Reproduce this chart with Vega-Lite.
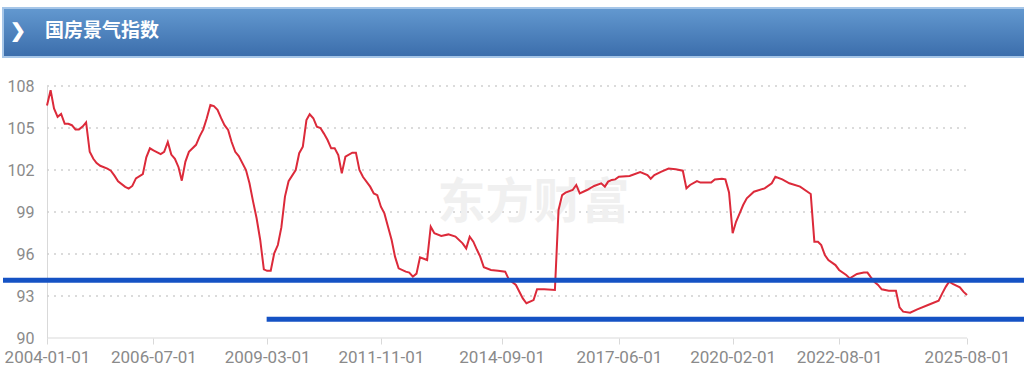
{
  "$schema": "https://vega.github.io/schema/vega-lite/v6.json",
  "padding": {"left": 0, "top": 7, "right": 0, "bottom": 0},
  "background": "white",
  "columns": 1,
  "align": "none",
  "spacing": 20,
  "config": {"view": {"stroke": null}, "font": "Roboto"},
  "datasets": {
    "series": [
      {"date":"2004-01-01","value":106.6},{"date":"2004-02-01","value":107.7},{"date":"2004-03-01","value":106.4},{"date":"2004-04-01","value":105.8},{"date":"2004-05-01","value":106.0},{"date":"2004-06-01","value":105.3},{"date":"2004-07-01","value":105.3},{"date":"2004-08-01","value":105.2},{"date":"2004-09-01","value":104.9},{"date":"2004-10-01","value":104.9},{"date":"2004-11-01","value":105.1},{"date":"2004-12-01","value":105.4},
      {"date":"2005-01-01","value":103.3},{"date":"2005-02-01","value":102.8},{"date":"2005-03-01","value":102.5},{"date":"2005-04-01","value":102.3},{"date":"2005-06-01","value":102.1},{"date":"2005-07-01","value":101.95},{"date":"2005-08-01","value":101.6},{"date":"2005-09-01","value":101.2},{"date":"2005-11-01","value":100.8},{"date":"2005-12-01","value":100.67},
      {"date":"2006-01-01","value":100.86},{"date":"2006-02-01","value":101.4},{"date":"2006-04-01","value":101.7},{"date":"2006-05-01","value":102.9},{"date":"2006-06-01","value":103.55},{"date":"2006-07-01","value":103.4},{"date":"2006-09-01","value":103.14},{"date":"2006-10-01","value":103.3},{"date":"2006-11-01","value":104.0},{"date":"2006-12-01","value":103.1},
      {"date":"2007-01-01","value":102.8},{"date":"2007-02-01","value":102.2},{"date":"2007-03-01","value":101.24},{"date":"2007-04-01","value":102.6},{"date":"2007-05-01","value":103.3},{"date":"2007-07-01","value":103.8},{"date":"2007-08-01","value":104.4},{"date":"2007-09-01","value":104.9},{"date":"2007-10-01","value":105.7},{"date":"2007-11-01","value":106.64},{"date":"2007-12-01","value":106.57},
      {"date":"2008-01-01","value":106.3},{"date":"2008-02-01","value":105.7},{"date":"2008-03-01","value":105.2},{"date":"2008-04-01","value":104.86},{"date":"2008-05-01","value":104.0},{"date":"2008-06-01","value":103.3},{"date":"2008-07-01","value":103.0},{"date":"2008-09-01","value":102.0},{"date":"2008-10-01","value":101.05},{"date":"2008-11-01","value":99.74},{"date":"2008-12-01","value":98.55},
      {"date":"2009-01-01","value":97.0},{"date":"2009-02-01","value":94.9},{"date":"2009-03-01","value":94.8},{"date":"2009-04-01","value":94.8},{"date":"2009-05-01","value":96.05},{"date":"2009-06-01","value":96.64},{"date":"2009-07-01","value":97.9},{"date":"2009-08-01","value":100.1},{"date":"2009-09-01","value":101.2},{"date":"2009-11-01","value":102.0},{"date":"2009-12-01","value":103.2},
      {"date":"2010-01-01","value":103.67},{"date":"2010-02-01","value":105.57},{"date":"2010-03-01","value":105.98},{"date":"2010-04-01","value":105.7},{"date":"2010-05-01","value":105.1},{"date":"2010-06-01","value":105.0},{"date":"2010-07-01","value":104.6},{"date":"2010-08-01","value":104.14},{"date":"2010-09-01","value":103.55},{"date":"2010-10-01","value":103.55},{"date":"2010-11-01","value":103.07},{"date":"2010-12-01","value":101.76},
      {"date":"2011-01-01","value":102.95},{"date":"2011-03-01","value":103.24},{"date":"2011-04-01","value":103.24},{"date":"2011-05-01","value":102.0},{"date":"2011-06-01","value":101.5},{"date":"2011-08-01","value":100.81},{"date":"2011-09-01","value":100.33},{"date":"2011-10-01","value":100.2},{"date":"2011-11-01","value":99.38},{"date":"2011-12-01","value":98.9},
      {"date":"2012-01-01","value":97.95},{"date":"2012-02-01","value":97.0},{"date":"2012-03-01","value":95.81},{"date":"2012-04-01","value":94.98},{"date":"2012-06-01","value":94.74},{"date":"2012-07-01","value":94.67},{"date":"2012-08-01","value":94.38},{"date":"2012-09-01","value":94.6},{"date":"2012-10-01","value":95.76},{"date":"2012-12-01","value":95.57},
      {"date":"2013-01-01","value":97.95},{"date":"2013-02-01","value":97.48},{"date":"2013-04-01","value":97.29},{"date":"2013-06-01","value":97.4},{"date":"2013-08-01","value":97.24},{"date":"2013-10-01","value":96.76},{"date":"2013-11-01","value":96.4},{"date":"2013-12-01","value":97.24},
      {"date":"2014-01-01","value":96.88},{"date":"2014-02-01","value":96.3},{"date":"2014-03-01","value":95.81},{"date":"2014-04-01","value":95.05},{"date":"2014-06-01","value":94.86},{"date":"2014-08-01","value":94.81},{"date":"2014-10-01","value":94.74},{"date":"2014-11-01","value":94.19},
      {"date":"2015-01-01","value":93.79},{"date":"2015-03-01","value":92.83},{"date":"2015-04-01","value":92.48},{"date":"2015-06-01","value":92.71},{"date":"2015-07-01","value":93.48},{"date":"2015-09-01","value":93.48},{"date":"2015-12-01","value":93.43},
      {"date":"2016-01-01","value":99.14},{"date":"2016-02-01","value":100.21},{"date":"2016-03-01","value":100.38},{"date":"2016-05-01","value":100.57},{"date":"2016-06-01","value":100.93},{"date":"2016-07-01","value":100.33},{"date":"2016-09-01","value":100.57},{"date":"2016-11-01","value":100.86},
      {"date":"2017-01-01","value":101.05},{"date":"2017-02-01","value":100.81},{"date":"2017-03-01","value":101.17},{"date":"2017-04-01","value":101.29},{"date":"2017-05-01","value":101.33},{"date":"2017-06-01","value":101.52},{"date":"2017-09-01","value":101.57},{"date":"2017-12-01","value":101.86},
      {"date":"2018-02-01","value":101.64},{"date":"2018-03-01","value":101.38},{"date":"2018-04-01","value":101.64},{"date":"2018-06-01","value":101.88},{"date":"2018-08-01","value":102.1},{"date":"2018-10-01","value":102.05},{"date":"2018-12-01","value":101.95},
      {"date":"2019-01-01","value":100.69},{"date":"2019-02-01","value":100.93},{"date":"2019-04-01","value":101.21},{"date":"2019-05-01","value":101.1},{"date":"2019-08-01","value":101.1},{"date":"2019-09-01","value":101.33},{"date":"2019-11-01","value":101.38},{"date":"2019-12-01","value":101.33},
      {"date":"2020-01-01","value":100.4},{"date":"2020-02-01","value":97.48},{"date":"2020-03-01","value":98.3},{"date":"2020-04-01","value":98.9},{"date":"2020-05-01","value":99.5},{"date":"2020-06-01","value":99.98},{"date":"2020-08-01","value":100.45},{"date":"2020-11-01","value":100.69},
      {"date":"2021-01-01","value":101.05},{"date":"2021-02-01","value":101.52},{"date":"2021-04-01","value":101.33},{"date":"2021-06-01","value":101.05},{"date":"2021-09-01","value":100.81},{"date":"2021-12-01","value":100.29},
      {"date":"2022-01-01","value":96.88},{"date":"2022-02-01","value":96.88},{"date":"2022-03-01","value":96.64},{"date":"2022-04-01","value":95.93},{"date":"2022-05-01","value":95.57},{"date":"2022-07-01","value":95.21},{"date":"2022-08-01","value":94.86},{"date":"2022-10-01","value":94.5},{"date":"2022-11-01","value":94.26},
      {"date":"2023-01-01","value":94.57},{"date":"2023-03-01","value":94.67},{"date":"2023-04-01","value":94.67},{"date":"2023-05-01","value":94.33},{"date":"2023-06-01","value":94.0},{"date":"2023-07-01","value":93.79},{"date":"2023-08-01","value":93.48},{"date":"2023-10-01","value":93.38},{"date":"2023-12-01","value":93.38},
      {"date":"2024-01-01","value":92.19},{"date":"2024-02-01","value":91.88},{"date":"2024-04-01","value":91.81},{"date":"2024-06-01","value":92.05},{"date":"2024-09-01","value":92.36},{"date":"2024-12-01","value":92.67},
      {"date":"2025-01-01","value":93.19},{"date":"2025-02-01","value":93.67},{"date":"2025-03-01","value":94.02},{"date":"2025-04-01","value":93.86},{"date":"2025-06-01","value":93.62},{"date":"2025-07-01","value":93.31},{"date":"2025-08-01","value":93.07}
    ],
    "levels": [
      {"date": "2002-12-20", "end": "2026-12-28", "value": 94.12},
      {"date": "2009-02-25", "end": "2026-12-28", "value": 91.34}
    ],
    "grid": [
      {"date": "2004-01-01", "end": "2025-08-01", "value": 93},
      {"date": "2004-01-01", "end": "2025-08-01", "value": 96},
      {"date": "2004-01-01", "end": "2025-08-01", "value": 99},
      {"date": "2004-01-01", "end": "2025-08-01", "value": 102},
      {"date": "2004-01-01", "end": "2025-08-01", "value": 105},
      {"date": "2004-01-01", "end": "2025-08-01", "value": 108}
    ],
    "baseline": [
      {"date": "2004-01-01", "end": "2025-08-01", "value": 90}
    ],
    "mark": [
      {"date": "2015-06-01", "value": 99.6, "label": "东方财富"}
    ]
  },
  "concat": [
    {
      "width": 1022,
      "height": 49,
      "data": {"values": [{"section": "国房景气指数"}]},
      "mark": {
        "type": "rect",
        "stroke": "#a6c6e8",
        "strokeWidth": 2,
        "color": {
          "x1": 0, "y1": 0, "x2": 0, "y2": 1,
          "gradient": "linear",
          "stops": [
            {"offset": 0, "color": "#6399d0"},
            {"offset": 1, "color": "#3b6dab"}
          ]
        }
      },
      "title": {
        "text": "❯　国房景气指数",
        "anchor": "start",
        "orient": "top",
        "frame": "group",
        "offset": -43,
        "dx": 7,
        "baseline": "middle",
        "color": "white",
        "font": "Noto Sans CJK SC",
        "fontSize": 19,
        "fontWeight": "bold"
      }
    },
    {
      "width": 1024,
      "height": 252,
      "encoding": {
        "x": {
          "field": "date",
          "type": "temporal",
          "scale": {
            "type": "utc",
            "nice": false,
            "domain": [1072915200000, 1754006400000],
            "range": [44, 964]
          },
          "axis": {
            "title": null,
            "values": [1072915200000, 1151712000000, 1235865600000, 1320105600000, 1409529600000, 1496275200000, 1580515200000, 1659312000000, 1754006400000],
            "format": "%Y-%m-%d",
            "grid": false,
            "domain": false,
            "tickColor": "#d9d9d9",
            "tickSize": 6,
            "labelColor": "#8a8a8a",
            "labelFontSize": 17,
            "labelPadding": 5,
            "labelFlush": false,
            "labelOverlap": false
          }
        },
        "y": {
          "field": "value",
          "type": "quantitative",
          "scale": {"domain": [90, 108], "nice": false, "zero": false},
          "axis": {
            "title": null,
            "values": [90, 93, 96, 99, 102, 105, 108],
            "grid": false,
            "domain": true,
            "domainColor": "#d9d9d9",
            "offset": -44,
            "ticks": false,
            "labelColor": "#8a8a8a",
            "labelFontSize": 16,
            "labelPadding": 13
          }
        }
      },
      "layer": [
        {
          "data": {"name": "grid"},
          "mark": {"type": "rule", "color": "#cfcfcf", "strokeDash": [2, 5], "strokeWidth": 1.5},
          "encoding": {"x2": {"field": "end"}}
        },
        {
          "data": {"name": "baseline"},
          "mark": {"type": "rule", "color": "#d9d9d9", "strokeWidth": 1},
          "encoding": {"x2": {"field": "end"}}
        },
        {
          "data": {"name": "mark"},
          "mark": {"type": "text", "font": "Noto Sans CJK SC", "fontWeight": "bold", "fontSize": 48, "color": "#f0f0f0"},
          "encoding": {"text": {"field": "label"}}
        },
        {
          "data": {"name": "series"},
          "mark": {"type": "line", "color": "#dc2a3a", "strokeWidth": 2}
        },
        {
          "data": {"name": "levels"},
          "mark": {"type": "rule", "color": "#1552c4", "strokeWidth": 5},
          "encoding": {"x2": {"field": "end"}}
        }
      ]
    }
  ]
}
